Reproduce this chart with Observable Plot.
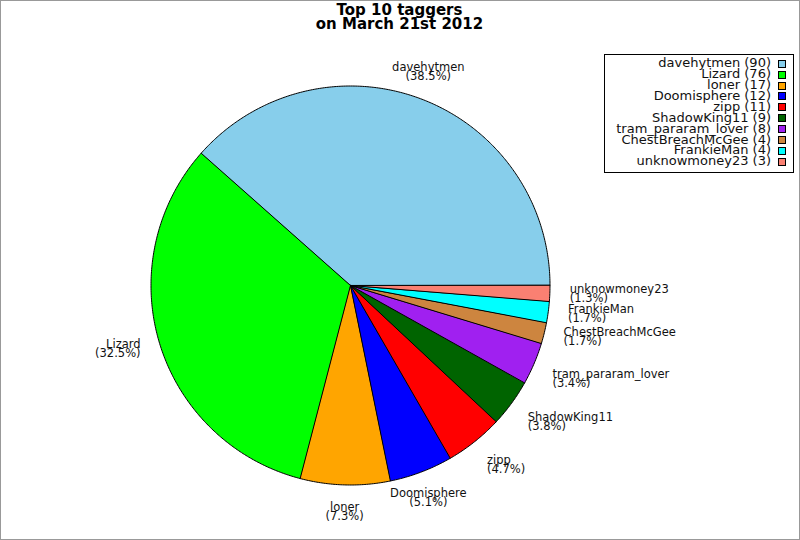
<!DOCTYPE html>
<html>
<head>
<meta charset="utf-8">
<script src="https://cdn.jsdelivr.net/npm/d3@7"></script>
<script src="https://cdn.jsdelivr.net/npm/@observablehq/plot@0.6"></script>
<style>
  body { margin: 0; background: #fff; }
  #wrap { position: relative; width: 800px; height: 540px; overflow: hidden; background: #fff;
          font-family: "DejaVu Sans", sans-serif; }
  #chart { position: absolute; left: 0; top: 0; }
  #frame { position: absolute; left: 0; top: 0; width: 800px; height: 540px; box-sizing: border-box;
           border: 1px solid #999; pointer-events: none; }
  #title { position: absolute; left: 0; top: 2.5px; width: 799px; text-align: center; font-weight: bold;
           font-size: 15px; line-height: 14.3px; color: #000; }
  #legend { position: absolute; left: 604px; top: 54px; width: 190px; height: 119px; box-sizing: border-box;
            border: 1px solid #000; background: #fff; padding: 3.3px 7px 0 0; }
  .row { display: flex; justify-content: flex-end; align-items: center; height: 10.9px; font-size: 13px;
         line-height: 10.9px; color: #111; white-space: nowrap; }
  .sw { width: 8px; height: 8px; box-sizing: border-box; border: 1px solid #000; margin-left: 7px; flex: none; }
</style>
</head>
<body>
<div id="wrap">
  <div id="chart"></div>
  <div id="title">Top 10 taggers<br>on March 21st 2012</div>
  <div id="legend"></div>
  <div id="frame"></div>
</div>
<script>
// ---- data ----
const names = ["davehytmen", "Lizard", "loner", "Doomisphere", "zipp", "ShadowKing11",
               "tram_pararam_lover", "ChestBreachMcGee", "FrankieMan", "unknowmoney23"];
const counts = [90, 76, 17, 12, 11, 9, 8, 4, 4, 3];
const colors = ["#87CEEB", "#00FF00", "#FFA500", "#0000FF", "#FF0000", "#006400",
                "#A020F0", "#CD853F", "#00FFFF", "#FA8072"];

// ---- layout ----
const W = 800, H = 540, CX = 350, CY = 285, R = 199.5, LABEL_R = 1.1;

const total = d3.sum(counts);
let acc = 0;
const slices = names.map((name, i) => {
  const a0 = acc / total * 2 * Math.PI;
  acc += counts[i];
  const a1 = acc / total * 2 * Math.PI;
  return {name, count: counts[i], a0, a1, mid: (a0 + a1) / 2, pct: counts[i] / total * 100};
});

// slice outlines (center + arc)
const outline = slices.flatMap(s => {
  const steps = Math.max(2, Math.ceil((s.a1 - s.a0) / (Math.PI / 360)));
  const pts = [{name: s.name, x: 0, y: 0}];
  for (let k = 0; k <= steps; k++) {
    const a = s.a0 + (s.a1 - s.a0) * k / steps;
    pts.push({name: s.name, x: Math.cos(a), y: Math.sin(a)});
  }
  return pts;
});

// labels
const labels = slices.map(s => {
  const c = Math.cos(s.mid), si = Math.sin(s.mid);
  return {
    x: LABEL_R * c, y: LABEL_R * si,
    text: `${s.name}\n(${s.pct.toFixed(1)}%)`,
    ta: c > 0.5 ? "start" : c < -0.5 ? "end" : "middle",
    la: si > 0.34 ? "bottom" : si < -0.34 ? "top" : "middle"
  };
});
const groups = d3.groups(labels, d => d.ta + "|" + d.la);
const textMarks = groups.map(([key, arr]) => {
  const [ta, la] = key.split("|");
  return Plot.text(arr, {x: "x", y: "y", text: "text", textAnchor: ta, lineAnchor: la,
                         lineHeight: 0.78, fill: "#111", fontSize: 11.5});
});

const chart = Plot.plot({
  width: W, height: H,
  marginTop: 0, marginRight: 0, marginBottom: 0, marginLeft: 0,
  x: {domain: [-CX / R, (W - CX) / R], axis: null},
  y: {domain: [-(H - CY) / R, CY / R], axis: null},
  color: {domain: names, range: colors},
  style: {fontFamily: "DejaVu Sans", background: "transparent", overflow: "visible"},
  marks: [
    Plot.line(outline, {x: "x", y: "y", z: "name", fill: "name", stroke: "#000", strokeWidth: 1,
                        curve: "linear-closed", strokeLinejoin: "round"}),
    ...textMarks
  ]
});
document.getElementById("chart").appendChild(chart);

// legend
const legend = document.getElementById("legend");
names.forEach((n, i) => {
  const row = document.createElement("div");
  row.className = "row";
  const t = document.createElement("span");
  t.textContent = `${n} (${counts[i]})`;
  const sw = document.createElement("span");
  sw.className = "sw";
  sw.style.background = colors[i];
  row.appendChild(t);
  row.appendChild(sw);
  legend.appendChild(row);
});
</script>
</body>
</html>
